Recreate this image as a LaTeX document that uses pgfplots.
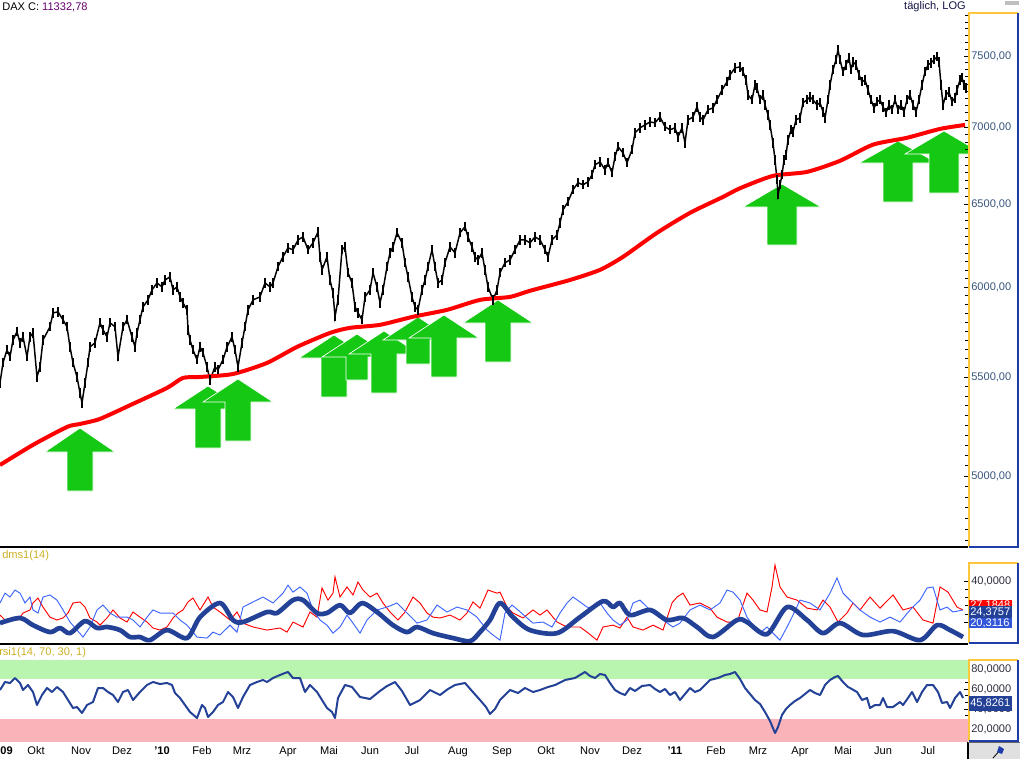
\documentclass[border=0pt]{standalone}
\usepackage{fontspec}
\setmainfont{Liberation Sans}
\usepackage{pgfplots}
\pgfplotsset{compat=1.18}

\definecolor{tickc}{RGB}{55,85,125}
\definecolor{subtick}{RGB}{45,45,65}
\definecolor{arrowgreen}{RGB}{20,200,20}
\definecolor{mared}{RGB}{255,0,0}
\definecolor{adx}{RGB}{35,65,150}
\definecolor{diblue}{RGB}{60,100,255}
\definecolor{frameyel}{RGB}{255,200,60}
\definecolor{frameblue}{RGB}{30,60,170}
\definecolor{lblyel}{RGB}{205,175,35}
\definecolor{bandgreen}{RGB}{185,245,175}
\definecolor{bandred}{RGB}{250,180,185}

\newcommand{\lbl}{\fontsize{8.3}{10}\selectfont}

\pgfplotsset{
  panel/.style={
    scale only axis, width=726pt, xmin=0, xmax=968,
    anchor=north west,
    axis line style={draw=none},
    xtick=\empty,
    ytick pos=right, yticklabel pos=right,
    tick align=inside,
    major tick length=3pt, minor tick length=2pt,
    tick style={black, line width=0.5pt},
    yticklabel style={font=\lbl, text=tickc, anchor=east, xshift=36pt},
  },
  arrowp/.style={fill=arrowgreen, draw=white, line width=0.5pt},
}

\begin{document}
\begin{tikzpicture}

% arrows (annotation layer, pixel coordinates)
\begin{axis}[scale only axis, width=726pt, height=401.25pt, at={(0pt,-9pt)}, anchor=north west,
  xmin=0, xmax=968, ymin=12, ymax=547, y dir=reverse, hide axis, clip=true]
\addplot[arrowp] coordinates {(80,428)(115,452)(93,452)(93,491)(67,491)(67,452)(45,452)(80,428)};
\addplot[arrowp] coordinates {(208,386)(243,409)(221,409)(221,448)(195,448)(195,409)(173,409)(208,386)};
\addplot[arrowp] coordinates {(238,379)(273,402)(251,402)(251,441)(225,441)(225,402)(203,402)(238,379)};
\addplot[arrowp] coordinates {(334,335)(369,358)(347,358)(347,397)(321,397)(321,358)(299,358)(334,335)};
\addplot[arrowp] coordinates {(357,334)(392,357)(368,357)(368,380)(346,380)(346,357)(322,357)(357,334)};
\addplot[arrowp] coordinates {(384,331)(419,354)(397,354)(397,393)(371,393)(371,354)(349,354)(384,331)};
\addplot[arrowp] coordinates {(418,317)(453,340)(430,340)(430,364)(406,364)(406,340)(383,340)(418,317)};
\addplot[arrowp] coordinates {(444,315)(479,338)(457,338)(457,377)(431,377)(431,338)(409,338)(444,315)};
\addplot[arrowp] coordinates {(498,300)(533,323)(511,323)(511,362)(485,362)(485,323)(463,323)(498,300)};
\addplot[arrowp] coordinates {(782,184)(821,207)(797,207)(797,245)(767,245)(767,207)(743,207)(782,184)};
\addplot[arrowp] coordinates {(898,141)(937,163)(913,163)(913,202)(883,202)(883,163)(859,163)(898,141)};
\addplot[arrowp] coordinates {(944,131)(983,154)(959,154)(959,193)(929,193)(929,154)(905,154)(944,131)};
\end{axis}

% price panel
\begin{axis}[panel, at={(0pt,-9pt)}, height=401.25pt,
  ymode=log, ymin=4669, ymax=7825,
  ytick={5000,5500,6000,6500,7000,7500},
  yticklabels={{5000,00},{5500,00},{6000,00},{6500,00},{7000,00},{7500,00}},
  minor ytick={4700,4750,...,7800}]
\addplot[black, line width=1.1pt, mark=|, mark size=3.5pt, mark options={line width=1.8pt}] coordinates {
(0,5469)(3,5577)(7,5647)(10,5609)(13,5701)(17,5746)(20,5685)(23,5718)(27,5609)(30,5718)(33,5740)(37,5501)(40,5555)(43,5701)(50,5774)(53,5852)(58,5858)(63,5813)(67,5774)(70,5663)(73,5577)(77,5501)(80,5417)(82,5365)(85,5469)(88,5577)(90,5663)(95,5685)(100,5796)(103,5757)(107,5718)(110,5796)(115,5774)(118,5609)(123,5774)(127,5813)(132,5718)(135,5663)(137,5740)(140,5813)(143,5886)(148,5926)(152,5983)(157,6024)(162,6000)(165,6041)(170,6059)(173,5983)(177,6000)(180,5943)(183,5909)(187,5869)(188,5757)(190,5701)(193,5647)(197,5593)(200,5663)(203,5631)(207,5555)(210,5485)(215,5555)(218,5539)(223,5593)(227,5663)(232,5718)(235,5647)(238,5555)(242,5685)(245,5774)(248,5869)
(253,5926)(260,5943)(265,6024)(270,6000)(273,6024)(278,6118)(283,6177)(288,6231)(293,6219)(298,6279)(303,6297)(308,6219)(313,6261)(318,6328)(320,6177)(322,6100)(327,6177)(330,6041)(333,5966)(335,5830)(338,5926)(342,6219)(345,6237)(348,6083)(352,6024)(355,5886)(358,5852)(362,5813)(365,5943)(370,5983)(373,6083)(377,6000)(380,5909)(383,5983)(387,6118)(390,6201)(393,6237)(397,6322)(402,6261)(405,6142)(408,6059)(412,5943)(415,5886)(418,5869)(422,5983)(425,6041)(428,6118)(432,6219)(435,6118)(438,6024)(442,6041)(445,6142)(450,6237)(455,6201)(460,6322)(465,6359)(468,6297)(472,6237)(475,6177)(478,6159)(482,6201)(485,6100)(488,6000)(493,5926)(497,5983)(500,6083)(505,6142)
(510,6159)(515,6219)(520,6279)(525,6279)(530,6261)(535,6297)(540,6279)(545,6219)(548,6177)(552,6279)(557,6309)(560,6383)(563,6464)(568,6514)(573,6590)(578,6635)(583,6622)(588,6641)(592,6686)(595,6751)(600,6770)(605,6718)(608,6764)(612,6699)(615,6803)(618,6869)(623,6829)(627,6764)(632,6849)(635,6962)(640,6996)(645,7016)(650,7036)(655,7030)(660,7070)(665,7003)(670,6983)(675,6996)(678,6935)(682,6996)(685,6895)(688,7050)(693,7070)(697,7139)(700,7070)(703,7050)(708,7119)(713,7132)(717,7188)(722,7257)(727,7314)(730,7363)(735,7413)(740,7420)
(743,7385)(746,7328)(748,7222)(752,7188)(755,7293)(757,7271)(760,7188)(763,7222)(765,7153)(768,7084)(770,7016)(773,6895)(775,6783)(777,6654)(778,6558)(780,6622)(782,6686)(784,6783)(786,6816)(788,6915)(791,6983)(793,6969)(796,7050)(800,7064)(803,7167)(807,7188)(810,7208)(813,7188)(817,7153)(820,7167)(823,7105)(825,7064)(828,7188)(830,7293)(833,7399)(836,7471)(838,7543)(840,7471)(843,7385)(846,7435)(849,7485)(851,7399)(853,7456)(856,7435)(859,7363)(862,7314)(865,7328)(868,7257)(871,7188)(874,7132)(877,7174)(880,7188)(883,7139)(886,7098)(889,7153)(892,7119)(895,7188)(898,7119)(901,7153)(904,7105)(907,7188)(910,7222)(913,7153)(916,7105)(919,7188)(922,7293)(925,7385)(928,7435)(931,7449)(934,7471)(937,7493)(939,7456)(941,7293)(943,7153)(946,7222)(949,7243)(952,7174)(955,7202)(957,7257)(960,7328)(962,7342)(964,7293)(966,7271)};
\addplot[mared, line width=3pt, smooth, tension=0.4] coordinates {
(0,5053)(33,5152)(67,5242)(80,5257)(100,5283)(133,5360)(167,5443)(183,5496)(200,5501)(233,5517)(267,5576)(297,5663)(330,5740)(350,5768)(380,5785)(413,5830)(447,5869)(480,5926)(510,5943)(530,5978)(570,6041)(600,6100)(623,6177)(657,6322)(690,6445)(723,6545)(740,6600)(773,6679)(807,6705)(840,6777)(873,6883)(907,6929)(940,6989)(965,7016)};
\end{axis}

% DMI panel
\begin{axis}[panel, at={(0pt,-411.75pt)}, height=70.5pt,
  ymin=9.8, ymax=55.6, ytick={20,40}, yticklabels={{20,0000},{40,0000}},
  minor y tick num=4, yticklabel style={text=subtick}]
\addplot[mared, line width=0.7pt] coordinates {
(0,23.4)(7,20.0)(13,22.4)(18,21.0)(23,24.4)(30,25.9)(33,29.3)(38,31.7)(43,27.3)(50,22.4)(57,21.0)(63,22.0)(68,24.4)(73,29.3)(80,29.8)(85,27.3)(90,22.0)(97,20.0)(100,18.5)(107,22.0)(113,25.9)(120,22.0)(127,20.0)(133,24.9)(140,22.4)(147,20.0)(153,17.1)(160,16.1)(167,17.6)(173,22.0)(178,24.4)(183,25.9)(188,29.8)(193,31.7)(200,25.9)(208,32.2)(213,27.3)(220,24.9)(230,21.0)(237,24.9)(243,19.5)(253,17.6)(267,16.1)(280,17.1)(287,15.1)(293,20.0)(303,17.6)(310,24.9)(317,22.4)(322,36.6)(328,30.7)(333,34.1)(335,42.0)(340,32.2)(347,37.1)(353,33.2)(358,39.5)(363,35.6)(370,32.2)(377,34.1)(383,29.3)(390,24.9)(398,21.0)(405,24.9)(413,32.2)(420,29.3)(427,24.4)(433,22.4)(440,22.0)(450,23.4)(460,21.0)(467,24.4)(473,29.8)(480,26.8)(488,35.6)(497,34.1)(500,34.6)(507,27.3)(513,24.4)(523,22.0)(533,25.9)(540,23.4)(547,25.9)(557,20.0)(567,17.6)(580,17.6)(587,15.1)(597,11.2)(603,17.6)(613,18.5)(620,17.1)(627,22.4)(633,17.6)(643,16.1)(653,18.5)(663,16.1)(672,29.3)(677,32.2)(683,34.1)(690,28.3)(700,29.3)(710,26.8)(717,22.4)(727,20.0)(737,20.0)(747,34.1)(753,30.7)(760,25.9)(767,24.9)(772,37.1)(775,47.8)(780,37.1)(787,32.2)(797,30.7)(807,26.8)(817,25.9)(823,30.7)(830,27.3)(838,20.0)(847,24.4)(853,29.3)(860,25.9)(870,32.2)(880,26.8)(893,33.2)(903,25.9)(913,27.3)(923,21.0)(933,19.5)(940,37.1)(948,34.6)(957,27.3)(963,25.9)};
\addplot[diblue, line width=0.7pt] coordinates {
(0,29.3)(5,34.1)(10,32.2)(15,35.6)(20,34.1)(25,29.3)(30,32.2)(33,25.9)(38,24.4)(43,32.2)(50,33.2)(57,30.7)(63,25.9)(70,20.0)(77,16.1)(83,12.7)(90,17.6)(97,25.9)(103,28.3)(110,24.4)(117,22.4)(127,22.4)(133,21.0)(140,17.6)(147,22.4)(153,25.9)(160,24.4)(167,24.4)(173,24.4)(180,21.0)(187,18.5)(197,12.7)(207,12.2)(213,15.1)(220,13.7)(230,18.5)(237,15.1)(243,27.3)(253,29.8)(263,32.2)(273,29.3)(283,34.1)(288,38.0)(293,34.6)(300,37.1)(307,34.1)(313,25.9)(320,21.0)(327,18.5)(333,14.6)(340,17.6)(347,23.4)(353,19.5)(360,14.6)(367,21.0)(377,25.9)(387,27.3)(397,29.3)(407,24.4)(417,19.5)(427,21.0)(437,28.3)(447,24.9)(457,27.3)(467,25.9)(477,22.4)(487,16.1)(493,13.7)(500,11.2)(505,24.4)(512,28.3)(518,25.9)(527,22.0)(533,19.5)(543,20.0)(552,17.6)(560,24.4)(567,29.3)(573,32.2)(580,29.8)(587,27.3)(593,26.8)(600,29.3)(607,24.4)(613,21.0)(620,18.5)(627,21.0)(633,29.3)(640,30.7)(647,27.3)(653,24.4)(663,21.0)(673,17.6)(680,19.5)(690,25.9)(700,28.3)(710,25.9)(720,29.3)(727,35.6)(733,34.6)(740,30.7)(747,22.4)(753,18.5)(760,14.6)(767,17.6)(773,14.6)(780,11.2)(787,17.6)(793,23.4)(800,30.7)(810,29.3)(820,25.9)(830,34.1)(837,41.5)(843,34.1)(850,30.7)(860,25.9)(870,22.4)(880,20.0)(890,22.4)(900,20.0)(910,25.9)(920,30.7)(927,36.6)(933,37.1)(940,25.9)(947,27.3)(953,24.9)(963,25.9)};
\addplot[adx, line width=3.5pt, line join=round, smooth, tension=0.5] coordinates {
(0,19.5)(20,22.0)(33,18.5)(50,15.1)(60,17.1)(70,14.6)(85,20.5)(97,17.1)(107,17.6)(120,16.1)(130,12.7)(140,12.7)(150,11.2)(167,16.1)(187,12.2)(200,22.4)(220,29.3)(233,21.0)(243,20.0)(267,24.9)(277,24.4)(293,30.7)(303,30.7)(317,24.4)(327,24.4)(340,28.3)(350,24.4)(362,29.3)(377,24.9)(393,18.5)(407,15.1)(417,17.6)(433,14.6)(453,12.2)(470,10.7)(480,15.1)(490,21.0)(500,29.3)(513,22.4)(530,16.1)(557,14.6)(580,22.4)(603,30.2)(613,27.3)(620,29.3)(630,23.4)(650,25.9)(667,21.0)(683,22.0)(697,17.6)(713,12.7)(737,21.0)(747,20.0)(767,14.1)(787,27.3)(807,21.0)(823,14.6)(840,19.5)(863,13.7)(893,15.6)(920,11.2)(937,18.5)(950,16.1)(963,12.7)};
\end{axis}

% RSI panel
\begin{axis}[panel, at={(0pt,-484.5pt)}, height=72pt,
  ymin=7, ymax=103, ytick={20,40,60,80},
  yticklabels={{20,0000},{40,0000},{60,0000},{80,0000}},
  minor y tick num=2, yticklabel style={text=subtick},
  xtick={5,36,81,122,162,202,242,288,329,370,412,458,502,546,590,632,675,716,758,800,843,883,928},
  xticklabels={{\bfseries '09},Okt,Nov,Dez,{\bfseries '10},Feb,Mrz,Apr,Mai,Jun,Jul,Aug,Sep,Okt,Nov,Dez,{\bfseries '11},Feb,Mrz,Apr,Mai,Jun,Jul},
  x tick style={draw=none},
  xticklabel style={font=\lbl, text=black}]
\addplot[fill=bandgreen, draw=none] coordinates {(0,70)(968,70)(968,89)(0,89)};
\addplot[fill=bandred, draw=none] coordinates {(0,7)(968,7)(968,30)(0,30)};
\addplot[adx, line width=1.5pt, line join=round] coordinates {
(0,59)(5,67)(10,66)(15,71)(20,66)(23,59)(28,64)(33,57)(37,44)(42,54)(47,61)(52,57)(57,62)(63,57)(68,49)(73,41)(77,42)(82,36)(87,44)(93,47)(98,61)(103,61)(108,57)(113,54)(118,47)(123,57)(128,59)(133,49)(140,57)(147,64)(153,67)(160,65)(167,66)(172,64)(175,56)(180,51)(185,44)(190,37)(197,31)(202,44)(205,41)(208,32)(213,37)(218,44)(223,47)(228,57)(233,52)(238,41)(243,52)(250,64)(257,67)(263,69)(267,67)(273,71)(280,74)(285,76)(288,77)(293,71)(300,71)(305,57)(310,64)(317,57)(322,49)(327,41)(332,37)(335,31)(338,51)
(345,64)(352,62)(360,52)(370,50)(380,58)(387,63)(395,67)(402,58)(410,44)(420,49)(430,59)(440,54)(448,60)(455,64)(465,66)(472,58)(480,49)(486,42)(490,35)(495,40)(500,49)(510,59)(518,56)(525,61)(533,57)(540,59)(548,62)(555,64)(565,69)(575,71)(580,74)(585,77)(590,73)(595,71)(600,75)(605,74)(610,66)(615,59)(620,56)(625,54)(630,61)(635,58)(642,63)(650,64)(655,60)(660,57)(665,60)(670,54)(675,57)(680,49)(685,55)(690,61)(695,57)(700,59)(705,64)(710,69)(718,71)(725,74)(730,75)(735,77)(740,70)(745,61)(750,55)(755,49)(760,45)(765,37)(770,28)(775,16)(778,22)(782,34)(786,40)(790,44)(795,48)(800,51)(805,55)(810,59)(815,56)(820,54)(825,64)(830,69)(835,72)(838,73)(843,67)(848,62)
(850,61)(857,57)(862,49)(867,51)(870,41)(875,44)(880,44)(883,51)(887,42)(893,42)(900,47)(903,44)(908,51)(912,57)(917,47)(922,57)(927,64)(933,64)(938,57)(942,46)(947,47)(950,41)(955,51)(960,57)(963,51)};
\end{axis}

% frames, labels and value boxes (pixel coordinates)
\begin{scope}[x=0.75pt, y=-0.75pt]
\draw[black, line width=1.5pt] (0,547) -- (968,547);
\draw[black, line width=1.5pt] (0,644) -- (968,644);
% right label frames
\draw[frameyel, line width=0.8pt] (969,547) -- (969,13) -- (1018,13);
\draw[frameblue, line width=0.8pt] (1018,13) -- (1018,547) -- (969,547);
\draw[frameyel, line width=0.8pt] (969,643) -- (969,563) -- (1018,563);
\draw[frameblue, line width=0.8pt] (1018,563) -- (1018,643) -- (969,643);
\draw[frameyel, line width=0.8pt] (969,741) -- (969,660) -- (1018,660);
\draw[frameblue, line width=0.8pt] (1018,660) -- (1018,741) -- (969,741);
% value boxes
\fill[mared] (969,600) rectangle (1012,610);
\node[anchor=west, inner sep=0pt, text=white, font=\lbl] at (970,605) {27,1848};
\fill[diblue!85!black] (969,616) rectangle (1012,628);
\node[anchor=west, inner sep=0pt, text=white, font=\lbl] at (970,623) {20,3116};
\fill[adx] (969,606) rectangle (1012,618);
\node[anchor=west, inner sep=0pt, text=white, font=\lbl] at (970,612) {24,3757};
\fill[adx] (969,696) rectangle (1012,711);
\node[anchor=west, inner sep=0pt, text=white, font=\lbl] at (970,703.5) {45,8261};
% titles
\node[anchor=west, inner sep=0pt, font=\lbl] at (2,7) {DAX C: \textcolor[RGB]{100,0,110}{11332,78}};
\node[anchor=east, inner sep=0pt, font=\lbl, text={rgb,255:red,20;green,20;blue,70}] at (966,7) {täglich, LOG};
\node[anchor=west, inner sep=0pt, font=\lbl, text=lblyel] at (2,556) {dms1(14)};
\node[anchor=west, inner sep=0pt, font=\lbl, text=lblyel] at (-1,653) {rsi1(14, 70, 30, 1)};
% window widgets
\fill[black!25] (1005,1) rectangle (1019,5);
\fill[black!12] (969,742) rectangle (1020,759);
\draw[black, line width=0.8pt] (968,742) -- (968,759);
\draw[black!60, line width=0.5pt] (968,742) -- (1020,742);
\draw[black, line width=0.6pt] (993,758) -- (1001,749);
\fill[frameblue] (997,752) -- (999,746) -- (1004,749) -- (1002,754) -- cycle;
\end{scope}

\pgfresetboundingbox
\useasboundingbox (0pt,0pt) rectangle (765pt,-569.25pt);
\end{tikzpicture}
\end{document}
